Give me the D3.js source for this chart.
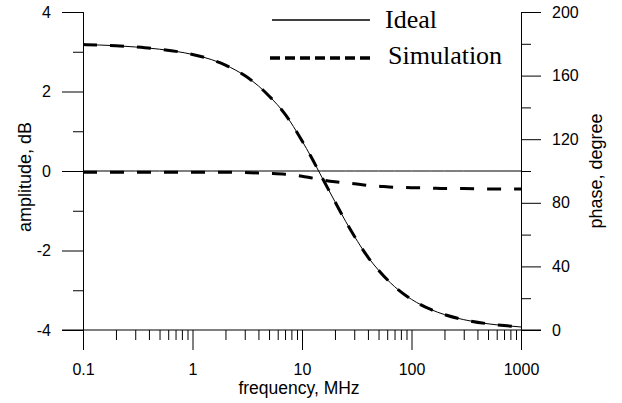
<!DOCTYPE html>
<html><head><meta charset="utf-8">
<script src="https://cdn.jsdelivr.net/npm/d3@7"></script>
<style>body{margin:0;background:#fff}svg{display:block}</style>
</head><body>
<svg id="c" width="622" height="403"></svg>
<script>
// ---- data ----
const freq = [0.1,0.2,0.3,0.5,1,1.5,2,3,4,5,7,10,12,15,20,25,30,40,50,70,100,150,200,300,500,700,1000];
const phaseIdeal = [179.5,178.8,178.0,176.6,173.3,170.0,166.6,160.0,153.5,147.2,135.8,119.0,109.4,96.8,80.7,68.4,59.1,45.9,37.6,27.3,19.3,12.9,9.7,6.5,3.9,2.8,1.9];
const phaseSim   = [179.5,178.8,178.0,176.6,173.3,170.0,166.6,160.0,153.5,147.2,135.8,119.0,109.4,96.8,80.7,68.4,59.1,45.9,37.6,27.3,19.3,12.9,9.7,6.5,3.9,2.8,1.9];
const ampIdeal = [0,0,0,0,0,0,0,0,0,0,0,0,0,0,0,0,0,0,0,0,0,0,0,0,0,0,0];
const ampSim = [-0.03,-0.03,-0.03,-0.03,-0.03,-0.03,-0.03,-0.04,-0.05,-0.06,-0.08,-0.13,-0.17,-0.22,-0.27,-0.30,-0.32,-0.36,-0.38,-0.41,-0.42,-0.43,-0.44,-0.44,-0.45,-0.45,-0.45];
const xTicks = [0.1,1,10,100,1000];
const xTickLabels = ["0.1","1","10","100","1000"];
const ampTicks = [-4,-2,0,2,4];
const ampMinor = [-3,-1,1,3];
const phaseTicks = [0,40,80,120,160,200];
const phaseMinor = [20,60,100,140,180];
const legendLabels = ["Ideal","Simulation"];

// ---- layout ----
const L = 83, R = 521, T = 12, B = 330;
const svg = d3.select("#c");
const x = d3.scaleLog().domain([0.1,1000]).range([L,R]);
const yA = d3.scaleLinear().domain([-4,4]).range([B,T]);
const yP = d3.scaleLinear().domain([0,200]).range([B,T]);
const sans = "'Liberation Sans', Arial, sans-serif";
const serif = "'Liberation Serif', 'Times New Roman', serif";
const col = "#000";

// minor x ticks
const minorX = [];
for (let d = 0.1; d < 1000; d *= 10) for (let k = 2; k <= 9; k++) minorX.push(d*k);

// bottom axis
const gx = svg.append("g").attr("transform",`translate(0,${B})`);
gx.call(d3.axisBottom(x).tickValues(xTicks).tickSize(20).tickFormat((d,i)=>xTickLabels[i]));
gx.append("g").call(d3.axisBottom(x).tickValues(minorX).tickSize(10).tickFormat(""));
gx.selectAll(".domain").remove();
gx.append("line").attr("x1",62).attr("x2",541).attr("stroke",col);

// left axis
const gl = svg.append("g").attr("transform",`translate(${L},0)`);
gl.call(d3.axisLeft(yA).tickValues(ampTicks).tickSize(21).tickFormat(d=>d));
gl.append("g").call(d3.axisLeft(yA).tickValues(ampMinor).tickSize(10).tickFormat(""));

// right axis
const gr = svg.append("g").attr("transform",`translate(${R},0)`);
gr.call(d3.axisRight(yP).tickValues(phaseTicks).tickSize(20).tickFormat(d=>d));
gr.append("g").call(d3.axisRight(yP).tickValues(phaseMinor).tickSize(10).tickFormat(""));

[gx,gl,gr].forEach(g=>{
  g.selectAll(".domain").attr("stroke",col).attr("stroke-width",1);
  g.selectAll(".tick line").attr("stroke",col).attr("stroke-width",1);
  g.selectAll(".tick text").attr("fill",col).style("font-family",sans).style("font-size","16px");
});
gx.selectAll(".tick text").attr("dy",null).attr("y",45);
gl.selectAll(".tick text").attr("x",-32);
gr.selectAll(".tick text").attr("x",31);

// axis titles
svg.append("text").attr("x",299).attr("y",394).attr("text-anchor","middle")
  .style("font-family",sans).style("font-size","17.5px").text("frequency, MHz");
svg.append("text").attr("transform","translate(31,177) rotate(-90)").attr("text-anchor","middle")
  .style("font-family",sans).style("font-size","18px").text("amplitude, dB");
svg.append("text").attr("transform","translate(602,171) rotate(-90)").attr("text-anchor","middle")
  .style("font-family",sans).style("font-size","18px").text("phase, degree");

// lines
const lineA = d3.line().x((d,i)=>x(freq[i])).y(d=>yA(d)).curve(d3.curveMonotoneX);
const lineP = d3.line().x((d,i)=>x(freq[i])).y(d=>yP(d)).curve(d3.curveMonotoneX);
svg.append("path").datum(ampIdeal).attr("d",lineA).attr("fill","none").attr("stroke",col).attr("stroke-width",1);
svg.append("path").datum(phaseIdeal).attr("d",lineP).attr("fill","none").attr("stroke",col).attr("stroke-width",1);
svg.append("path").datum(ampSim).attr("d",lineA).attr("fill","none").attr("stroke",col).attr("stroke-width",3).attr("stroke-dasharray","14,13");
svg.append("path").datum(phaseSim).attr("d",lineP).attr("fill","none").attr("stroke",col).attr("stroke-width",3).attr("stroke-dasharray","14,13");

// legend
const lg = svg.append("g");
lg.append("line").attr("x1",272).attr("x2",370).attr("y1",20).attr("y2",20).attr("stroke",col).attr("stroke-width",1.3);
lg.append("line").attr("x1",270).attr("x2",370).attr("y1",58).attr("y2",58).attr("stroke",col).attr("stroke-width",3.5).attr("stroke-dasharray","10,5");
lg.append("text").attr("x",385).attr("y",28).style("font-family",serif).style("font-size","26px").text(legendLabels[0]);
lg.append("text").attr("x",388).attr("y",64).style("font-family",serif).style("font-size","26px").text(legendLabels[1]);
</script>
</body></html>
